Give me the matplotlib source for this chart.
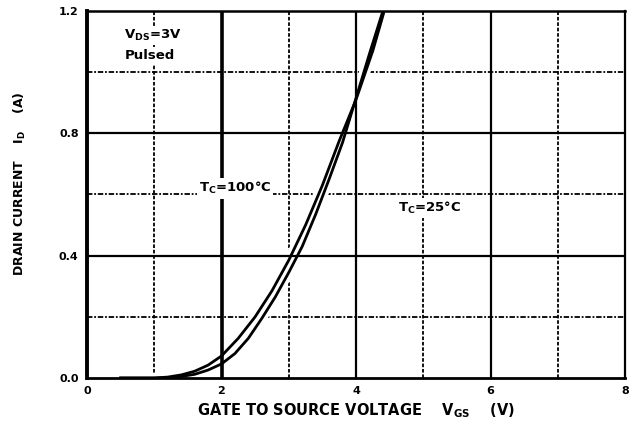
import matplotlib.pyplot as plt

# Transfer characteristics
vgs_25 = [0.5, 1.0, 1.2, 1.4, 1.6, 1.8, 2.0, 2.2, 2.4, 2.6, 2.8, 3.0, 3.2,
          3.4, 3.6, 3.8, 4.0, 4.2, 4.4]
id_25 = [0.0, 0.0, 0.001, 0.005, 0.012, 0.026, 0.046, 0.08, 0.13, 0.195,
         0.265, 0.345, 0.43, 0.535, 0.65, 0.77, 0.915, 1.06, 1.2]

vgs_100 = [0.5, 1.0, 1.2, 1.4, 1.6, 1.8, 2.0, 2.25, 2.5, 2.75, 3.0, 3.25,
           3.5, 3.75, 4.0, 4.25, 4.42]
id_100 = [0.0, 0.0, 0.003, 0.01, 0.022, 0.042, 0.072, 0.13, 0.2, 0.285,
          0.385, 0.5, 0.63, 0.775, 0.91, 1.07, 1.2]

x_major = [0, 2, 4, 6, 8]
x_minor = [1, 3, 5, 7]
y_major = [0.0, 0.4, 0.8, 1.2]
y_minor = [0.2, 0.6, 1.0]

plt.rcParams['font.family'] = ['DejaVu Sans']
plt.rcParams['font.weight'] = 'bold'
plt.rcParams['mathtext.fontset'] = 'dejavusans'

fig = plt.figure(figsize=(6.35, 4.25), dpi=100)
ax = fig.add_axes([87 / 635, 1 - 378 / 425, 538 / 635, 367 / 425])
ax.set_xlim(0, 8)
ax.set_ylim(0, 1.2)

# dotted minor grid
for x in x_minor:
    ax.axvline(x, color='black', lw=1.3, ls=(0, (2, 1)), zorder=1)
for y in y_minor:
    ax.axhline(y, color='black', lw=1.3, ls=(0, (3, 1, 1, 1)), zorder=1)

# white halo around curves hides the grid close to them
for v, i in [(vgs_25, id_25), (vgs_100, id_100)]:
    ax.plot(v, i, color='white', lw=7, zorder=2, solid_capstyle='butt')

# solid major grid
ax.axvline(2, color='black', lw=2.6, zorder=3)
for x in [4, 6]:
    ax.axvline(x, color='black', lw=1.6, zorder=3)
for y in [0.4, 0.8]:
    ax.axhline(y, color='black', lw=1.6, zorder=3)

ax.plot(vgs_25, id_25, color='black', lw=2.0, zorder=4)
ax.plot(vgs_100, id_100, color='black', lw=2.0, zorder=4)

box = dict(facecolor='white', edgecolor='none', pad=1.5)
ax.text(0.97, 1.12, 'V$_{\\mathbf{DS}}$=3V', ha='center', va='center',
        fontsize=9.5, fontweight='bold', bbox=box, zorder=5)
ax.text(0.93, 1.055, 'Pulsed', ha='center', va='center',
        fontsize=9.5, fontweight='bold', bbox=box, zorder=5)
ax.text(2.2, 0.62, 'T$_{\\mathbf{C}}$=100°C', ha='center', va='center',
        fontsize=9.5, fontweight='bold', bbox=box, zorder=5)
ax.text(5.1, 0.556, 'T$_{\\mathbf{C}}$=25°C', ha='center', va='center',
        fontsize=9.5, fontweight='bold', bbox=box, zorder=5)

ax.set_xticks(x_major)
ax.set_yticks(y_major)
ax.set_xticklabels([str(v) for v in x_major], fontsize=8, fontweight='bold')
ax.set_yticklabels([f'{v:.1f}' for v in y_major], fontsize=8, fontweight='bold')
ax.tick_params(length=0, pad=6)

ax.spines['left'].set_linewidth(2.8)
ax.spines['bottom'].set_linewidth(2.0)
ax.spines['top'].set_linewidth(1.8)
ax.spines['right'].set_linewidth(1.6)
for s in ax.spines.values():
    s.set_zorder(6)

fig.text(356 / 635, 1 - 411 / 425,
         'GATE TO SOURCE VOLTAGE    V$_{\\mathbf{GS}}$    (V)',
         ha='center', va='center', fontsize=10.5, fontweight='bold')
fig.text(20 / 635, 1 - 184 / 425,
         'DRAIN CURRENT    I$_{\\mathbf{D}}$    (A)',
         ha='center', va='center', rotation=90, fontsize=9, fontweight='bold')

fig.savefig('out.png', dpi=100)
